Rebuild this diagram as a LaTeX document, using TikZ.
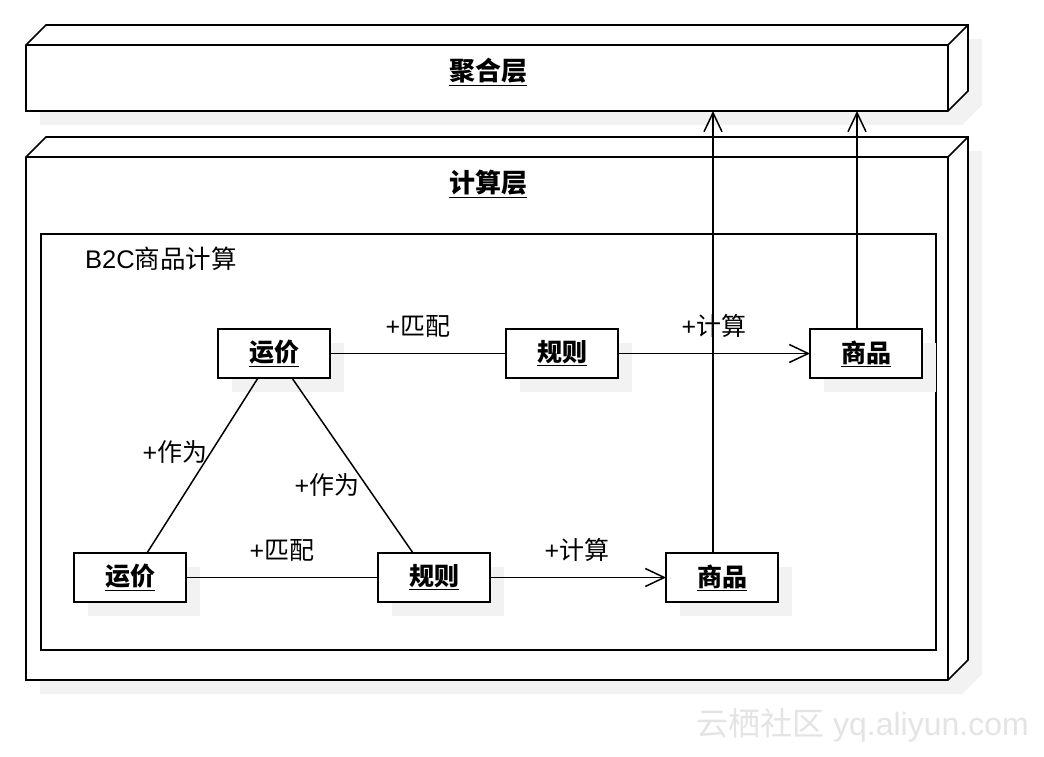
\documentclass[tikz,border=0pt]{standalone}
\usepackage{fontspec}
\setmainfont{Liberation Sans}
\newfontfamily\cjk{Noto Sans CJK SC}
\usetikzlibrary{arrows.meta,shadows}
\definecolor{shadowgray}{HTML}{F2F2F2}
\definecolor{wmgray}{HTML}{E4E4E4}
\newcommand\ulc[1]{\underline{#1}}
\tikzset{
  x=1pt, y=-1pt,
  threed/.style={line width=1.7pt, line join=miter},
  layerfront/.style={draw=none, inner sep=0pt, outer sep=0pt, minimum width=922pt},
  box/.style={draw, line width=1.7pt, fill=white, minimum width=112pt, minimum height=49pt,
    inner sep=0pt, outer sep=0pt, font=\fontsize{25}{28}\selectfont\cjk\bfseries,
    drop shadow={shadow xshift=14pt, shadow yshift=-14pt, fill=shadowgray, opacity=1}},
  title/.style={inner sep=0pt, font=\fontsize{26}{28}\selectfont\cjk\bfseries},
  conn/.style={line width=1.5pt},
  arr/.style={conn, -{Straight Barb[length=19pt,width=18pt]}},
  lbl/.style={inner sep=0pt, font=\fontsize{25}{28}\selectfont},
}
\newcommand\drawthreed[1]{%
  \fill[shadowgray] ([shift={(14,14)}]#1.south west) -- ([shift={(14,14)}]#1.north west)
    -- ([shift={(34,-6)}]#1.north west) -- ([shift={(34,-6)}]#1.north east)
    -- ([shift={(34,-6)}]#1.south east) -- ([shift={(14,14)}]#1.south east) -- cycle;
  \filldraw[threed, fill=white] (#1.south west) -- (#1.north west) -- ([shift={(20,-20)}]#1.north west)
    -- ([shift={(20,-20)}]#1.north east) -- ([shift={(20,-20)}]#1.south east) -- (#1.south east) -- cycle;
  \draw[threed] (#1.north west) -- (#1.north east) -- (#1.south east);
  \draw[threed] (#1.north east) -- ([shift={(20,-20)}]#1.north east);
}
\begin{document}
\begin{tikzpicture}
\useasboundingbox[fill=white] (0,0) rectangle (1044,756);
% watermark
\node[anchor=west, inner sep=0pt, text=wmgray, font=\fontsize{32}{32}\selectfont] (wm) at (696,725) {{\cjk 云栖社区} yq.aliyun.com};
% layers
\node[layerfront, minimum height=66pt] (agg) at (487,78) {};
\drawthreed{agg}
\node[layerfront, minimum height=523pt] (calc) at (487,418.5) {};
\drawthreed{calc}
\node[title] (aggt) at (488,72) {\ulc{聚合层}};
\node[title] (calct) at (488,184) {\ulc{计算层}};
% inner frame
\node[draw, line width=1.7pt, inner sep=0pt, outer sep=0pt, minimum width=895pt, minimum height=416pt] (frame) at (488.5,442) {};
\node[anchor=west, inner sep=0pt, font=\fontsize{25.5}{28}\selectfont] (framet) at (85,259) {B2C{\cjk 商品计算}};
% nodes
\node[box] (yj1) at (274,353.5) {\ulc{运价}};
\node[box] (gz1) at (562,353.5) {\ulc{规则}};
\node[box] (sp1) at (866,353.5) {\ulc{商品}};
\node[box] (yj2) at (130,577.5) {\ulc{运价}};
\node[box] (gz2) at (434,577.5) {\ulc{规则}};
\node[box] (sp2) at (722,577.5) {\ulc{商品}};
% connectors
\draw[conn] (yj1) -- (gz1);
\draw[arr] (gz1) -- (sp1);
\draw[conn] (yj2) -- (gz2);
\draw[arr] (gz2) -- (sp2);
\draw[conn] ([xshift=-16pt]yj1.south) -- ([xshift=17pt]yj2.north);
\draw[conn] ([xshift=18pt]yj1.south) -- ([xshift=-21pt]gz2.north);
\draw[arr] ([xshift=-9pt]sp2.north) -- ([xshift=-9pt]sp2.north |- agg.south);
\draw[arr] ([xshift=-9pt]sp1.north) -- ([xshift=-9pt]sp1.north |- agg.south);
% labels
\node[lbl] (l1) at (418,326) {+{\cjk 匹配}};
\node[lbl] (l2) at (714,326) {+{\cjk 计算}};
\node[lbl] (l3) at (282,550) {+{\cjk 匹配}};
\node[lbl] (l4) at (577,550) {+{\cjk 计算}};
\node[lbl] (l5) at (175,452) {+{\cjk 作为}};
\node[lbl] (l6) at (327,485) {+{\cjk 作为}};
\end{tikzpicture}
\end{document}
